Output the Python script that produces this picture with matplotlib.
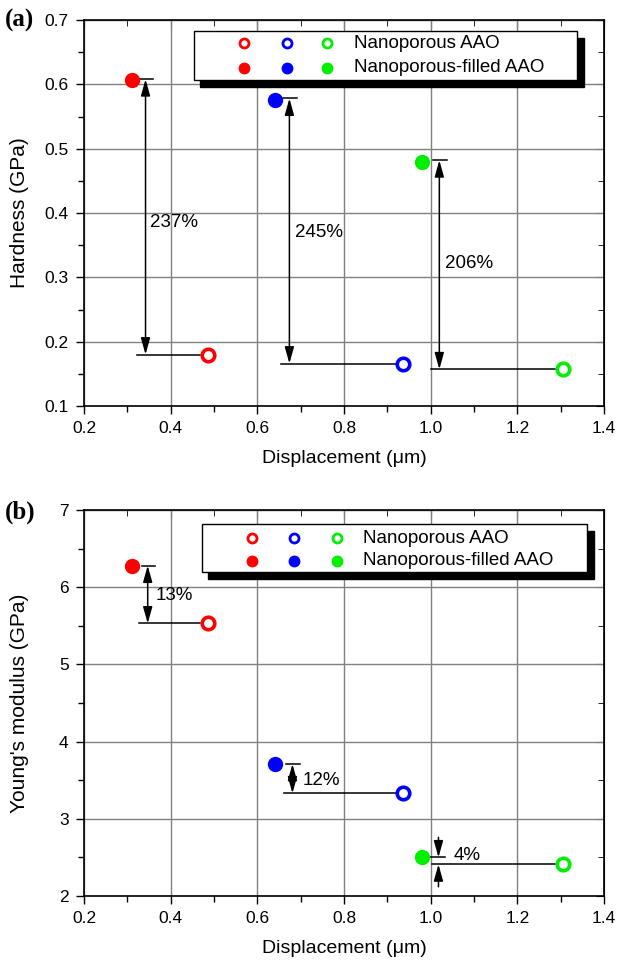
import matplotlib.pyplot as plt
from matplotlib.patches import Rectangle

plt.rcParams['font.family'] = ['Liberation Sans', 'DejaVu Sans']

# data
colors = ['#ff0000', '#0000ff', '#00ee00']

disp_filled = [0.31, 0.64, 0.98]
disp_open = [0.485, 0.937, 1.306]

hard_filled = [0.606, 0.576, 0.480]
hard_open = [0.180, 0.166, 0.157]
hard_pct = ['237%', '245%', '206%']

mod_filled = [6.28, 3.71, 2.50]
mod_open = [5.53, 3.33, 2.41]
mod_pct = ['13%', '12%', '4%']

# where the double arrows and the percent labels sit
arrow_x_a = [0.342, 0.674, 1.02]
arrow_x_b = [0.347, 0.681, 1.018]
pct_pos_a = [(0.352, 0.385), (0.686, 0.37), (1.034, 0.322)]
pct_pos_b = [(0.365, 5.89), (0.704, 3.49), (1.052, 2.52)]

FS = 13.5


def style_axes(ax, ylim, yticks, yminor):
    ax.set_xlim(0.2, 1.4)
    ax.set_ylim(*ylim)
    ax.set_xticks([0.2, 0.4, 0.6, 0.8, 1.0, 1.2, 1.4])
    ax.set_xticklabels(['0.2', '0.4', '0.6', '0.8', '1.0', '1.2', '1.4'])
    ax.set_xticks([0.3, 0.5, 0.7, 0.9, 1.1, 1.3], minor=True)
    ax.set_yticks(yticks)
    ax.set_yticks(yminor, minor=True)
    ax.grid(True, which='major', color='#808080', lw=1.0)
    ax.set_axisbelow(True)
    ax.tick_params(which='both', direction='out', labelsize=12.5, width=1)
    ax.tick_params(which='major', length=6, pad=5)
    ax.tick_params(which='minor', length=4)
    for s in ax.spines.values():
        s.set_linewidth(1.2)
    # inward ticks on top and right
    top = ax.secondary_xaxis('top')
    top.set_xticks(ax.get_xticks())
    top.set_xticks([0.3, 0.5, 0.7, 0.9, 1.1, 1.3], minor=True)
    top.tick_params(which='both', direction='in', labeltop=False)
    top.tick_params(which='major', length=6)
    top.tick_params(which='minor', length=4)
    right = ax.secondary_yaxis('right')
    right.set_yticks(yticks)
    right.set_yticks(yminor, minor=True)
    right.tick_params(which='both', direction='in', labelright=False)
    right.tick_params(which='major', length=6)
    right.tick_params(which='minor', length=4)
    ax.set_xlabel('Displacement (\u03bcm)', fontsize=14)
    ax.xaxis.set_label_coords(0.5, -0.113)


def draw_points(ax, yf, yo):
    for i in range(3):
        ax.plot(disp_filled[i], yf[i], 'o', color=colors[i], ms=10, zorder=5)
        ax.plot(disp_open[i], yo[i], 'o', mfc='white', mec=colors[i],
                mew=2.6, ms=9, zorder=5)


def draw_legend(ax, box, rows, mx, tx):
    x0, y0, x1, y1 = box
    tr = ax.transAxes
    ax.add_patch(Rectangle((x0 + 0.013, y0 - 0.018), x1 - x0, y1 - y0,
                           transform=tr, color='black', zorder=6, clip_on=False))
    ax.add_patch(Rectangle((x0, y0), x1 - x0, y1 - y0, transform=tr,
                           facecolor='white', edgecolor='black', lw=1.0,
                           zorder=7, clip_on=False))
    for i in range(3):
        ax.plot(mx[i], rows[0], 'o', transform=tr, mfc='white', mec=colors[i],
                mew=2, ms=6.5, zorder=8, clip_on=False)
        ax.plot(mx[i], rows[1], 'o', transform=tr, color=colors[i],
                ms=7.5, zorder=8, clip_on=False)
    ax.text(tx, rows[0], 'Nanoporous AAO', transform=tr, fontsize=FS,
            va='center', zorder=8)
    ax.text(tx, rows[1], 'Nanoporous-filled AAO', transform=tr, fontsize=FS,
            va='center', zorder=8)


def double_arrow(ax, x, y_top, y_bot, x_end):
    ax.plot([x - 0.014, x + 0.017], [y_top, y_top], color='black', lw=1.1)
    ax.plot([x - 0.02, x_end], [y_bot, y_bot], color='black', lw=1.1)
    ax.annotate('', xy=(x, y_top), xytext=(x, y_bot),
                arrowprops=dict(arrowstyle='<|-|>,head_length=1.0,head_width=0.28',
                                color='black', lw=1.1, shrinkA=0, shrinkB=0))


fig = plt.figure(figsize=(6.2, 9.64), dpi=100)

# (a) hardness
ax1 = fig.add_axes([84 / 620, 1 - 406 / 964, 520 / 620, 386 / 964])
style_axes(ax1, (0.1, 0.7), [0.1, 0.2, 0.3, 0.4, 0.5, 0.6, 0.7],
           [0.15, 0.25, 0.35, 0.45, 0.55, 0.65])
ax1.set_ylabel('Hardness (GPa)', fontsize=15)
ax1.yaxis.set_label_coords(-0.105, 0.5)
draw_points(ax1, hard_filled, hard_open)
for i in range(3):
    double_arrow(ax1, arrow_x_a[i], hard_filled[i] + 0.002, hard_open[i],
                 disp_open[i] - 0.018)
    ax1.text(pct_pos_a[i][0], pct_pos_a[i][1], hard_pct[i], fontsize=FS,
             va='center')
draw_legend(ax1, (0.211, 0.845, 0.948, 0.972), (0.940, 0.876),
            (0.307, 0.390, 0.468), 0.52)
fig.text(0.008, 1 - 20 / 964, '(a)', family=['Liberation Serif'],
         fontweight='bold', fontsize=18, va='center')

# (b) Young's modulus
ax2 = fig.add_axes([84 / 620, 1 - 896 / 964, 520 / 620, 386 / 964])
style_axes(ax2, (2, 7), [2, 3, 4, 5, 6, 7], [2.5, 3.5, 4.5, 5.5, 6.5])
ax2.set_ylabel("Young's modulus (GPa)", fontsize=15)
ax2.yaxis.set_label_coords(-0.105, 0.5)
draw_points(ax2, mod_filled, mod_open)
for i in range(2):
    double_arrow(ax2, arrow_x_b[i], mod_filled[i], mod_open[i],
                 disp_open[i] - 0.018)
# 4%: arrows pointing inward from outside
xg = arrow_x_b[2]
ax2.plot([xg - 0.025, xg + 0.016], [mod_filled[2], mod_filled[2]], color='black', lw=1.1)
ax2.plot([xg - 0.016, disp_open[2] - 0.02], [mod_open[2], mod_open[2]], color='black', lw=1.1)
ax2.annotate('', xy=(xg, mod_filled[2]), xytext=(xg, 2.76),
             arrowprops=dict(arrowstyle='-|>,head_length=1.0,head_width=0.28',
                             color='black', lw=1.1, shrinkA=0, shrinkB=0))
ax2.annotate('', xy=(xg, mod_open[2]), xytext=(xg, 2.12),
             arrowprops=dict(arrowstyle='-|>,head_length=1.0,head_width=0.28',
                             color='black', lw=1.1, shrinkA=0, shrinkB=0))
for i in range(3):
    ax2.text(pct_pos_b[i][0], pct_pos_b[i][1], mod_pct[i], fontsize=FS,
             va='center')
draw_legend(ax2, (0.226, 0.839, 0.967, 0.964), (0.927, 0.868),
            (0.324, 0.403, 0.486), 0.537)
fig.text(0.008, 1 - 512 / 964, '(b)', family=['Liberation Serif'],
         fontweight='bold', fontsize=18, va='center')

fig.savefig('out.png', dpi=100)
